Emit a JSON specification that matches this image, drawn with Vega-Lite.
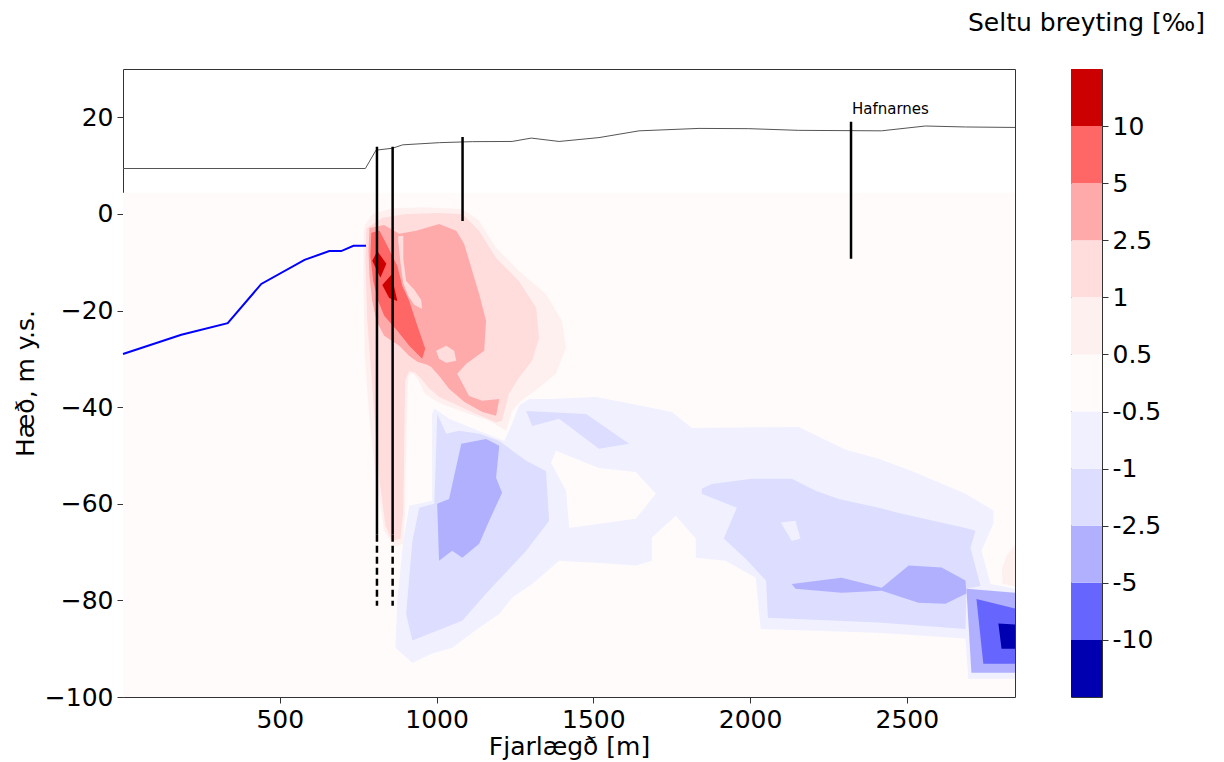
{
  "$schema": "https://vega.github.io/schema/vega-lite/v6.json",
  "autosize": {"type": "pad"},
  "padding": {"left": 12, "top": 10, "right": 0, "bottom": 0},
  "background": "white",
  "config": {
    "font": "DejaVu Sans",
    "view": {"stroke": "#333", "strokeWidth": 1},
    "axis": {"labelFontSize": 25, "titleFontSize": 25, "titleFontWeight": "normal", "labelColor": "black", "titleColor": "black", "tickColor": "#333", "tickSize": 6, "grid": false, "domain": false, "labelPadding": 4}
  },
  "datasets": {
    "bg": [{"x": 0, "x2": 2845, "y": -100, "y2": 4.4}],
    "poly": [
      {"p":"R1","c":"r1","x":770,"y":-2.5},{"p":"R1","c":"r1","x":796,"y":0.0},{"p":"R1","c":"r1","x":859,"y":1.2},{"p":"R1","c":"r1","x":954,"y":1.4},{"p":"R1","c":"r1","x":1082,"y":1.0},{"p":"R1","c":"r1","x":1136,"y":-1.4},{"p":"R1","c":"r1","x":1190,"y":-7.0},{"p":"R1","c":"r1","x":1263,"y":-11.8},{"p":"R1","c":"r1","x":1349,"y":-16.6},{"p":"R1","c":"r1","x":1400,"y":-22.1},{"p":"R1","c":"r1","x":1413,"y":-27.7},{"p":"R1","c":"r1","x":1381,"y":-33.1},{"p":"R1","c":"r1","x":1327,"y":-36.0},{"p":"R1","c":"r1","x":1270,"y":-38.7},{"p":"R1","c":"r1","x":1241,"y":-40.8},{"p":"R1","c":"r1","x":1222,"y":-44.9},{"p":"R1","c":"r1","x":1168,"y":-42.8},{"p":"R1","c":"r1","x":1104,"y":-41.4},{"p":"R1","c":"r1","x":1031,"y":-39.7},{"p":"R1","c":"r1","x":986,"y":-38.3},{"p":"R1","c":"r1","x":961,"y":-37.0},{"p":"R1","c":"r1","x":939,"y":-34.1},{"p":"R1","c":"r1","x":923,"y":-32.9},{"p":"R1","c":"r1","x":910,"y":-33.7},{"p":"R1","c":"r1","x":907,"y":-38.7},{"p":"R1","c":"r1","x":903,"y":-49.0},{"p":"R1","c":"r1","x":900,"y":-61.4},{"p":"R1","c":"r1","x":894,"y":-68.3},{"p":"R1","c":"r1","x":865,"y":-68.9},{"p":"R1","c":"r1","x":833,"y":-65.6},{"p":"R1","c":"r1","x":808,"y":-55.2},{"p":"R1","c":"r1","x":786,"y":-42.8},{"p":"R1","c":"r1","x":770,"y":-28.3},{"p":"R1","c":"r1","x":767,"y":-13.9},{"p":"R1","c":"r1","x":767,"y":-5.6},
      {"p":"RP","c":"r1","x":2845,"y":-68.5},{"p":"RP","c":"r1","x":2820,"y":-70.5},{"p":"RP","c":"r1","x":2803,"y":-73.5},{"p":"RP","c":"r1","x":2805,"y":-76.5},{"p":"RP","c":"r1","x":2845,"y":-77.2},
      {"p":"B1","c":"b1","x":993,"y":-40.3},{"p":"B1","c":"b1","x":1040,"y":-42.4},{"p":"B1","c":"b1","x":1120,"y":-44.5},{"p":"B1","c":"b1","x":1216,"y":-47.0},{"p":"B1","c":"b1","x":1238,"y":-43.9},{"p":"B1","c":"b1","x":1263,"y":-39.7},{"p":"B1","c":"b1","x":1295,"y":-38.3},{"p":"B1","c":"b1","x":1369,"y":-38.3},{"p":"B1","c":"b1","x":1508,"y":-37.9},{"p":"B1","c":"b1","x":1604,"y":-39.1},{"p":"B1","c":"b1","x":1751,"y":-41.0},{"p":"B1","c":"b1","x":1814,"y":-44.3},{"p":"B1","c":"b1","x":2155,"y":-44.1},{"p":"B1","c":"b1","x":2305,"y":-48.8},{"p":"B1","c":"b1","x":2410,"y":-50.7},{"p":"B1","c":"b1","x":2515,"y":-53.2},{"p":"B1","c":"b1","x":2687,"y":-57.9},{"p":"B1","c":"b1","x":2776,"y":-61.4},{"p":"B1","c":"b1","x":2776,"y":-64.1},{"p":"B1","c":"b1","x":2738,"y":-69.7},{"p":"B1","c":"b1","x":2767,"y":-76.6},{"p":"B1","c":"b1","x":2845,"y":-77.6},{"p":"B1","c":"b1","x":2845,"y":-96.2},{"p":"B1","c":"b1","x":2696,"y":-96.2},{"p":"B1","c":"b1","x":2687,"y":-87.9},{"p":"B1","c":"b1","x":2410,"y":-86.7},{"p":"B1","c":"b1","x":2034,"y":-85.9},{"p":"B1","c":"b1","x":2018,"y":-75.3},{"p":"B1","c":"b1","x":1922,"y":-71.8},{"p":"B1","c":"b1","x":1827,"y":-71.2},{"p":"B1","c":"b1","x":1827,"y":-67.2},{"p":"B1","c":"b1","x":1763,"y":-62.5},{"p":"B1","c":"b1","x":1687,"y":-67.0},{"p":"B1","c":"b1","x":1687,"y":-71.8},{"p":"B1","c":"b1","x":1636,"y":-72.8},{"p":"B1","c":"b1","x":1508,"y":-72.2},{"p":"B1","c":"b1","x":1391,"y":-71.8},{"p":"B1","c":"b1","x":1305,"y":-76.6},{"p":"B1","c":"b1","x":1241,"y":-79.4},{"p":"B1","c":"b1","x":1200,"y":-82.8},{"p":"B1","c":"b1","x":1130,"y":-85.9},{"p":"B1","c":"b1","x":1050,"y":-89.8},{"p":"B1","c":"b1","x":986,"y":-91.0},{"p":"B1","c":"b1","x":923,"y":-92.9},{"p":"B1","c":"b1","x":869,"y":-89.8},{"p":"B1","c":"b1","x":875,"y":-80.1},{"p":"B1","c":"b1","x":894,"y":-67.7},{"p":"B1","c":"b1","x":913,"y":-60.4},{"p":"B1","c":"b1","x":986,"y":-59.4},{"p":"B1","c":"b1","x":986,"y":-41.4},
      {"p":"R2","c":"r2","x":776,"y":-3.0},{"p":"R2","c":"r2","x":827,"y":-0.8},{"p":"R2","c":"r2","x":903,"y":0.0},{"p":"R2","c":"r2","x":1008,"y":0.2},{"p":"R2","c":"r2","x":1082,"y":0.0},{"p":"R2","c":"r2","x":1136,"y":-3.5},{"p":"R2","c":"r2","x":1190,"y":-9.1},{"p":"R2","c":"r2","x":1263,"y":-13.9},{"p":"R2","c":"r2","x":1318,"y":-19.4},{"p":"R2","c":"r2","x":1327,"y":-25.7},{"p":"R2","c":"r2","x":1305,"y":-30.4},{"p":"R2","c":"r2","x":1263,"y":-33.9},{"p":"R2","c":"r2","x":1231,"y":-37.2},{"p":"R2","c":"r2","x":1209,"y":-42.8},{"p":"R2","c":"r2","x":1190,"y":-43.2},{"p":"R2","c":"r2","x":1120,"y":-41.2},{"p":"R2","c":"r2","x":1056,"y":-39.3},{"p":"R2","c":"r2","x":1008,"y":-37.9},{"p":"R2","c":"r2","x":977,"y":-36.2},{"p":"R2","c":"r2","x":951,"y":-34.1},{"p":"R2","c":"r2","x":932,"y":-32.9},{"p":"R2","c":"r2","x":913,"y":-32.5},{"p":"R2","c":"r2","x":900,"y":-34.6},{"p":"R2","c":"r2","x":897,"y":-49.0},{"p":"R2","c":"r2","x":894,"y":-61.4},{"p":"R2","c":"r2","x":885,"y":-67.2},{"p":"R2","c":"r2","x":859,"y":-67.7},{"p":"R2","c":"r2","x":837,"y":-64.6},{"p":"R2","c":"r2","x":818,"y":-55.2},{"p":"R2","c":"r2","x":798,"y":-38.7},{"p":"R2","c":"r2","x":779,"y":-22.1},{"p":"R2","c":"r2","x":773,"y":-9.7},
      {"p":"H1","c":"n","x":1365,"y":-51.5},{"p":"H1","c":"n","x":1381,"y":-49.0},{"p":"H1","c":"n","x":1518,"y":-52.6},{"p":"H1","c":"n","x":1636,"y":-53.4},{"p":"H1","c":"n","x":1700,"y":-57.9},{"p":"H1","c":"n","x":1636,"y":-63.1},{"p":"H1","c":"n","x":1423,"y":-65.0},{"p":"H1","c":"n","x":1413,"y":-57.3},
      {"p":"B2L","c":"b2","x":1002,"y":-41.4},{"p":"B2L","c":"b2","x":1031,"y":-45.5},{"p":"B2L","c":"b2","x":1072,"y":-44.9},{"p":"B2L","c":"b2","x":1136,"y":-45.5},{"p":"B2L","c":"b2","x":1200,"y":-47.0},{"p":"B2L","c":"b2","x":1286,"y":-51.1},{"p":"B2L","c":"b2","x":1349,"y":-53.2},{"p":"B2L","c":"b2","x":1359,"y":-63.5},{"p":"B2L","c":"b2","x":1286,"y":-69.7},{"p":"B2L","c":"b2","x":1158,"y":-78.6},{"p":"B2L","c":"b2","x":1082,"y":-84.2},{"p":"B2L","c":"b2","x":977,"y":-86.9},{"p":"B2L","c":"b2","x":923,"y":-88.3},{"p":"B2L","c":"b2","x":903,"y":-82.8},{"p":"B2L","c":"b2","x":923,"y":-67.7},{"p":"B2L","c":"b2","x":945,"y":-60.8},{"p":"B2L","c":"b2","x":993,"y":-60.0},{"p":"B2L","c":"b2","x":999,"y":-48.4},
      {"p":"B2U","c":"b2","x":1286,"y":-40.8},{"p":"B2U","c":"b2","x":1477,"y":-41.4},{"p":"B2U","c":"b2","x":1614,"y":-47.6},{"p":"B2U","c":"b2","x":1518,"y":-48.6},{"p":"B2U","c":"b2","x":1391,"y":-42.4},{"p":"B2U","c":"b2","x":1305,"y":-43.9},
      {"p":"B2R","c":"b2","x":1846,"y":-56.9},{"p":"B2R","c":"b2","x":1878,"y":-55.9},{"p":"B2R","c":"b2","x":2005,"y":-54.8},{"p":"B2R","c":"b2","x":2133,"y":-54.8},{"p":"B2R","c":"b2","x":2209,"y":-57.3},{"p":"B2R","c":"b2","x":2283,"y":-59.0},{"p":"B2R","c":"b2","x":2410,"y":-60.8},{"p":"B2R","c":"b2","x":2474,"y":-61.9},{"p":"B2R","c":"b2","x":2687,"y":-65.0},{"p":"B2R","c":"b2","x":2719,"y":-65.6},{"p":"B2R","c":"b2","x":2703,"y":-69.1},{"p":"B2R","c":"b2","x":2735,"y":-77.0},{"p":"B2R","c":"b2","x":2690,"y":-77.6},{"p":"B2R","c":"b2","x":2687,"y":-85.9},{"p":"B2R","c":"b2","x":2410,"y":-84.6},{"p":"B2R","c":"b2","x":2057,"y":-83.6},{"p":"B2R","c":"b2","x":2051,"y":-75.9},{"p":"B2R","c":"b2","x":1986,"y":-71.4},{"p":"B2R","c":"b2","x":1916,"y":-67.2},{"p":"B2R","c":"b2","x":1958,"y":-60.8},{"p":"B2R","c":"b2","x":1846,"y":-57.9},
      {"p":"R3","c":"r3","x":786,"y":-2.9},{"p":"R3","c":"r3","x":833,"y":-2.3},{"p":"R3","c":"r3","x":865,"y":-3.5},{"p":"R3","c":"r3","x":881,"y":-4.1},{"p":"R3","c":"r3","x":935,"y":-3.5},{"p":"R3","c":"r3","x":1008,"y":-2.1},{"p":"R3","c":"r3","x":1063,"y":-3.5},{"p":"R3","c":"r3","x":1088,"y":-6.2},{"p":"R3","c":"r3","x":1114,"y":-11.8},{"p":"R3","c":"r3","x":1136,"y":-16.6},{"p":"R3","c":"r3","x":1158,"y":-22.1},{"p":"R3","c":"r3","x":1152,"y":-28.3},{"p":"R3","c":"r3","x":1095,"y":-31.0},{"p":"R3","c":"r3","x":1066,"y":-33.1},{"p":"R3","c":"r3","x":1104,"y":-37.7},{"p":"R3","c":"r3","x":1146,"y":-38.7},{"p":"R3","c":"r3","x":1200,"y":-38.3},{"p":"R3","c":"r3","x":1190,"y":-41.8},{"p":"R3","c":"r3","x":1146,"y":-41.0},{"p":"R3","c":"r3","x":1088,"y":-38.9},{"p":"R3","c":"r3","x":1040,"y":-36.2},{"p":"R3","c":"r3","x":1008,"y":-33.5},{"p":"R3","c":"r3","x":983,"y":-31.7},{"p":"R3","c":"r3","x":970,"y":-31.2},{"p":"R3","c":"r3","x":939,"y":-30.6},{"p":"R3","c":"r3","x":913,"y":-29.4},{"p":"R3","c":"r3","x":881,"y":-27.3},{"p":"R3","c":"r3","x":833,"y":-25.2},{"p":"R3","c":"r3","x":808,"y":-22.1},{"p":"R3","c":"r3","x":795,"y":-18.0},{"p":"R3","c":"r3","x":786,"y":-12.8},{"p":"R3","c":"r3","x":783,"y":-7.7},
      {"p":"B2H","c":"b1","x":2098,"y":-63.9},{"p":"B2H","c":"b1","x":2145,"y":-63.5},{"p":"B2H","c":"b1","x":2161,"y":-67.2},{"p":"B2H","c":"b1","x":2133,"y":-67.7},
      {"p":"B3L","c":"b3","x":1079,"y":-47.6},{"p":"B3L","c":"b3","x":1158,"y":-46.6},{"p":"B3L","c":"b3","x":1200,"y":-48.0},{"p":"B3L","c":"b3","x":1190,"y":-54.6},{"p":"B3L","c":"b3","x":1209,"y":-57.7},{"p":"B3L","c":"b3","x":1168,"y":-63.5},{"p":"B3L","c":"b3","x":1136,"y":-68.3},{"p":"B3L","c":"b3","x":1082,"y":-71.2},{"p":"B3L","c":"b3","x":1050,"y":-69.7},{"p":"B3L","c":"b3","x":1008,"y":-71.8},{"p":"B3L","c":"b3","x":1002,"y":-60.0},{"p":"B3L","c":"b3","x":1040,"y":-59.0},
      {"p":"B3R","c":"b3","x":2133,"y":-76.6},{"p":"B3R","c":"b3","x":2292,"y":-75.3},{"p":"B3R","c":"b3","x":2420,"y":-77.4},{"p":"B3R","c":"b3","x":2506,"y":-72.8},{"p":"B3R","c":"b3","x":2611,"y":-73.2},{"p":"B3R","c":"b3","x":2687,"y":-75.9},{"p":"B3R","c":"b3","x":2690,"y":-78.6},{"p":"B3R","c":"b3","x":2623,"y":-80.7},{"p":"B3R","c":"b3","x":2537,"y":-80.5},{"p":"B3R","c":"b3","x":2420,"y":-78.0},{"p":"B3R","c":"b3","x":2292,"y":-78.4},{"p":"B3R","c":"b3","x":2145,"y":-77.6},
      {"p":"B3K","c":"b3","x":2690,"y":-77.6},{"p":"B3K","c":"b3","x":2845,"y":-78.4},{"p":"B3K","c":"b3","x":2845,"y":-95.0},{"p":"B3K","c":"b3","x":2706,"y":-95.0},
      {"p":"I1","c":"r2","x":878,"y":-4.6},{"p":"I1","c":"r2","x":894,"y":-4.5},{"p":"I1","c":"r2","x":894,"y":-9.3},{"p":"I1","c":"r2","x":903,"y":-13.9},{"p":"I1","c":"r2","x":929,"y":-15.7},{"p":"I1","c":"r2","x":951,"y":-17.8},{"p":"I1","c":"r2","x":954,"y":-19.7},{"p":"I1","c":"r2","x":929,"y":-18.8},{"p":"I1","c":"r2","x":910,"y":-17.0},{"p":"I1","c":"r2","x":894,"y":-14.3},{"p":"I1","c":"r2","x":885,"y":-10.1},{"p":"I1","c":"r2","x":878,"y":-5.6},
      {"p":"I2","c":"r2","x":999,"y":-28.3},{"p":"I2","c":"r2","x":1031,"y":-27.3},{"p":"I2","c":"r2","x":1056,"y":-28.3},{"p":"I2","c":"r2","x":1063,"y":-30.4},{"p":"I2","c":"r2","x":1031,"y":-30.8},{"p":"I2","c":"r2","x":1008,"y":-30.0},
      {"p":"R4","c":"r4","x":792,"y":-3.9},{"p":"R4","c":"r4","x":818,"y":-3.5},{"p":"R4","c":"r4","x":843,"y":-6.6},{"p":"R4","c":"r4","x":875,"y":-10.8},{"p":"R4","c":"r4","x":891,"y":-14.9},{"p":"R4","c":"r4","x":913,"y":-18.0},{"p":"R4","c":"r4","x":939,"y":-23.2},{"p":"R4","c":"r4","x":964,"y":-27.9},{"p":"R4","c":"r4","x":954,"y":-30.0},{"p":"R4","c":"r4","x":913,"y":-27.3},{"p":"R4","c":"r4","x":875,"y":-24.2},{"p":"R4","c":"r4","x":833,"y":-21.1},{"p":"R4","c":"r4","x":814,"y":-18.0},{"p":"R4","c":"r4","x":798,"y":-13.9},{"p":"R4","c":"r4","x":789,"y":-8.7},
      {"p":"B4K","c":"b4","x":2722,"y":-79.7},{"p":"B4K","c":"b4","x":2845,"y":-81.7},{"p":"B4K","c":"b4","x":2845,"y":-93.1},{"p":"B4K","c":"b4","x":2744,"y":-93.1},
      {"p":"D1","c":"r5","x":795,"y":-9.7},{"p":"D1","c":"r5","x":811,"y":-7.7},{"p":"D1","c":"r5","x":840,"y":-10.3},{"p":"D1","c":"r5","x":821,"y":-13.2},
      {"p":"D2","c":"r5","x":827,"y":-14.7},{"p":"D2","c":"r5","x":856,"y":-12.6},{"p":"D2","c":"r5","x":875,"y":-18.0},{"p":"D2","c":"r5","x":849,"y":-17.4},
      {"p":"B5K","c":"b5","x":2792,"y":-84.8},{"p":"B5K","c":"b5","x":2845,"y":-85.0},{"p":"B5K","c":"b5","x":2845,"y":-90.0},{"p":"B5K","c":"b5","x":2802,"y":-90.0}
    ],
    "topo": [
      {"x":0,"y":9.4},{"x":773,"y":9.4},{"x":807,"y":13.2},{"x":860,"y":13.6},{"x":892,"y":14.3},{"x":1009,"y":14.75},{"x":1114,"y":14.96},{"x":1241,"y":15.0},{"x":1302,"y":15.7},{"x":1391,"y":15.0},{"x":1518,"y":15.8},{"x":1646,"y":17.2},{"x":1837,"y":17.7},{"x":1996,"y":17.65},{"x":2155,"y":17.3},{"x":2419,"y":17.2},{"x":2559,"y":18.2},{"x":2687,"y":18.0},{"x":2845,"y":17.9}
    ],
    "sea": [
      {"x":0,"y":-29.0},{"x":186,"y":-25.0},{"x":334,"y":-22.6},{"x":441,"y":-14.5},{"x":579,"y":-9.5},{"x":658,"y":-7.7},{"x":696,"y":-7.7},{"x":735,"y":-6.6},{"x":775,"y":-6.6}
    ],
    "wells": [
      {"x":810,"y":13.9,"y2":-66.4,"s":"solid"},{"x":810,"y":-66.4,"y2":-81.1,"s":"dashed"},
      {"x":860,"y":13.9,"y2":-66.4,"s":"solid"},{"x":860,"y":-66.4,"y2":-81.1,"s":"dashed"},
      {"x":1083,"y":15.9,"y2":-1.45,"s":"solid"},
      {"x":2322,"y":19.1,"y2":-9.3,"s":"solid"}
    ],
    "label": [{"x":2325,"y":20.6,"t":"Hafnarnes"}],
    "cbar": [
      {"lo":0,"hi":1,"c":"b5"},{"lo":1,"hi":2,"c":"b4"},{"lo":2,"hi":3,"c":"b3"},{"lo":3,"hi":4,"c":"b2"},{"lo":4,"hi":5,"c":"b1"},{"lo":5,"hi":6,"c":"n"},{"lo":6,"hi":7,"c":"r1"},{"lo":7,"hi":8,"c":"r2"},{"lo":8,"hi":9,"c":"r3"},{"lo":9,"hi":10,"c":"r4"},{"lo":10,"hi":11,"c":"r5"}
    ]
  },
  "resolve": {"scale": {"x": "independent", "y": "independent", "color": "shared"}, "axis": {"x": "independent", "y": "independent"}},
  "spacing": 56,
  "bounds": "flush",
  "hconcat": [
    {
      "width": 892,
      "height": 628,
      "encoding": {
        "x": {"field": "x", "type": "quantitative", "scale": {"domain": [0, 2845], "nice": false, "zero": false}, "axis": {"values": [500, 1000, 1500, 2000, 2500], "format": "d", "title": "Fjarlægð [m]", "titlePadding": 2}},
        "y": {"field": "y", "type": "quantitative", "scale": {"domain": [-100, 30], "nice": false, "zero": false}, "axis": {"values": [-100, -80, -60, -40, -20, 0, 20], "format": "d", "title": "Hæð, m y.s.", "titlePadding": 6}}
      },
      "layer": [
        {"data": {"name": "bg"}, "mark": {"type": "rect", "color": "#fffbfb"}, "encoding": {"x2": {"field": "x2"}, "y2": {"field": "y2"}}},
        {"data": {"name": "poly"}, "transform": [{"filter": {"field": "p", "oneOf": ["R1", "RP", "B1"]}}], "mark": {"type": "line", "filled": true, "order": false, "clip": true}, "encoding": {"detail": {"field": "p"}, "color": {"field": "c", "type": "nominal", "scale": {"domain": ["b5","b4","b3","b2","b1","n","r1","r2","r3","r4","r5"], "range": ["#0000b0","#6666ff","#b0b0ff","#ddddff","#f0f0ff","#fffbfb","#fff0f0","#ffdddd","#ffaaaa","#ff6666","#cc0000"]}, "legend": null}}},
        {"data": {"name": "poly"}, "transform": [{"filter": {"field": "p", "oneOf": ["R2", "H1", "B2L", "B2U", "B2R"]}}], "mark": {"type": "line", "filled": true, "order": false, "clip": true}, "encoding": {"detail": {"field": "p"}, "color": {"field": "c", "type": "nominal", "legend": null}}},
        {"data": {"name": "poly"}, "transform": [{"filter": {"field": "p", "oneOf": ["R3", "B2H", "B3L", "B3R", "B3K"]}}], "mark": {"type": "line", "filled": true, "order": false, "clip": true}, "encoding": {"detail": {"field": "p"}, "color": {"field": "c", "type": "nominal", "legend": null}}},
        {"data": {"name": "poly"}, "transform": [{"filter": {"field": "p", "oneOf": ["I1", "I2", "R4", "B4K"]}}], "mark": {"type": "line", "filled": true, "order": false, "clip": true}, "encoding": {"detail": {"field": "p"}, "color": {"field": "c", "type": "nominal", "legend": null}}},
        {"data": {"name": "poly"}, "transform": [{"filter": {"field": "p", "oneOf": ["D1", "D2", "B5K"]}}], "mark": {"type": "line", "filled": true, "order": false, "clip": true}, "encoding": {"detail": {"field": "p"}, "color": {"field": "c", "type": "nominal", "legend": null}}},
        {"data": {"name": "topo"}, "mark": {"type": "line", "color": "#555", "strokeWidth": 1}, "encoding": {}},
        {"data": {"name": "sea"}, "mark": {"type": "line", "color": "#0000ff", "strokeWidth": 2}, "encoding": {}},
        {"data": {"name": "wells"}, "mark": {"type": "rule", "color": "black", "strokeWidth": 2.5}, "encoding": {"y2": {"field": "y2"}, "strokeDash": {"field": "s", "type": "nominal", "scale": {"domain": ["solid", "dashed"], "range": [[1, 0], [7, 4]]}, "legend": null}}},
        {"data": {"name": "label"}, "mark": {"type": "text", "align": "left", "baseline": "alphabetic", "fontSize": 15, "color": "black"}, "encoding": {"text": {"field": "t"}}}
      ]
    },
    {
      "width": 31,
      "height": 628,
      "data": {"name": "cbar"},
      "title": {"text": "Seltu breyting [‰]", "fontSize": 25, "fontWeight": "normal", "anchor": "middle", "offset": 33, "color": "black"},
      "mark": {"type": "rect"},
      "encoding": {
        "x": {"datum": 0, "type": "quantitative", "scale": {"domain": [0, 1]}, "axis": null},
        "x2": {"datum": 1},
        "y": {"field": "lo", "type": "quantitative", "scale": {"domain": [0, 11], "nice": false, "zero": false}, "axis": {"orient": "right", "values": [1, 2, 3, 4, 5, 6, 7, 8, 9, 10], "labelExpr": "['','-10','-5','-2.5','-1','-0.5','0.5','1','2.5','5','10'][datum.value]", "title": null}},
        "y2": {"field": "hi"},
        "color": {"field": "c", "type": "nominal", "legend": null}
      }
    }
  ]
}
